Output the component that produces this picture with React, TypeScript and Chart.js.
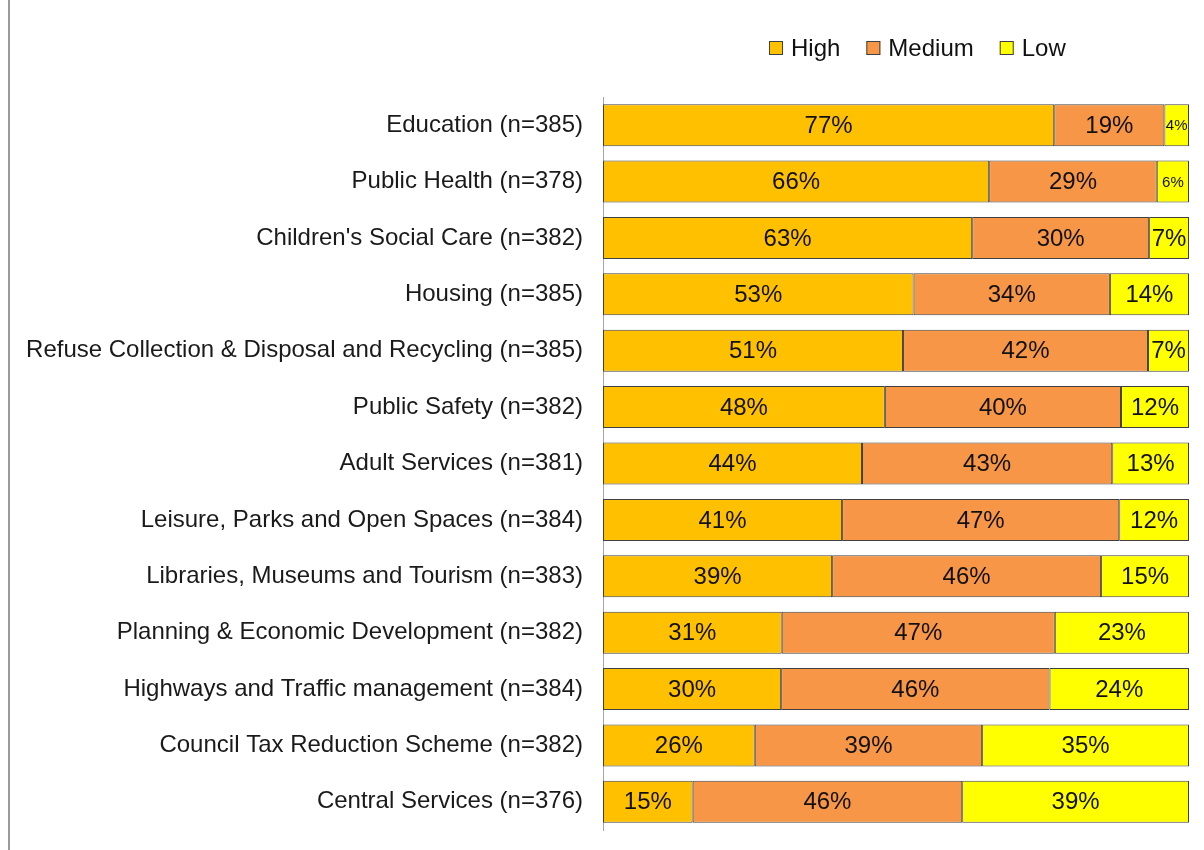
import React, { useEffect, useRef } from "react";
import { Chart, registerables } from "chart.js";

Chart.register(...registerables);

const categories = [
  "Education (n=385)",
  "Public Health (n=378)",
  "Children's Social Care (n=382)",
  "Housing (n=385)",
  "Refuse Collection & Disposal and Recycling (n=385)",
  "Public Safety (n=382)",
  "Adult Services (n=381)",
  "Leisure, Parks and Open Spaces (n=384)",
  "Libraries, Museums and Tourism (n=383)",
  "Planning & Economic Development (n=382)",
  "Highways and Traffic management (n=384)",
  "Council Tax Reduction Scheme (n=382)",
  "Central Services (n=376)",
];

const highValues = [77.0, 65.9, 63.0, 53.0, 51.2, 48.1, 44.2, 40.8, 39.1, 30.5, 30.4, 25.9, 15.3];
const mediumValues = [18.8, 28.6, 30.2, 33.5, 41.8, 40.3, 42.7, 47.3, 45.9, 46.6, 45.8, 38.8, 46.0];
const lowValues = [4.2, 5.5, 6.8, 13.5, 7.0, 11.6, 13.1, 11.9, 15.0, 22.9, 23.8, 35.3, 38.7];

const seriesNames = ["High", "Medium", "Low"];
const seriesColors = ["#FFC000", "#F79646", "#FFFF00"];

const FONT = "'Liberation Sans', Arial, sans-serif";

const labelPlugin = {
  id: "segLabels",
  afterDatasetsDraw(chart: any) {
    const ctx = chart.ctx;
    ctx.save();
    ctx.fillStyle = "#111";
    ctx.textAlign = "center";
    ctx.textBaseline = "middle";
    chart.data.datasets.forEach((ds: any, di: number) => {
      const meta = chart.getDatasetMeta(di);
      meta.data.forEach((bar: any, i: number) => {
        const v = ds.data[i];
        const small = v < 6;
        ctx.font = `${small ? 15 : 24}px ${FONT}`;
        const cx = (bar.x + bar.base) / 2;
        ctx.fillText(Math.round(v) + "%", cx, bar.y + 1);
      });
    });
    ctx.restore();
  },
};

const legendPlugin = {
  id: "customLegend",
  afterDraw(chart: any) {
    const ctx = chart.ctx;
    ctx.save();
    ctx.font = `24px ${FONT}`;
    ctx.textBaseline = "middle";
    ctx.textAlign = "left";
    const y = 48;
    let x = 769;
    seriesNames.forEach((name, i) => {
      ctx.fillStyle = seriesColors[i];
      ctx.fillRect(x, y - 7, 14, 14);
      ctx.strokeStyle = "#404040";
      ctx.lineWidth = 1;
      ctx.strokeRect(x + 0.5, y - 6.5, 13, 13);
      ctx.fillStyle = "#111";
      ctx.fillText(name, x + 22, y + 1);
      const w = ctx.measureText(name).width;
      x += 22 + w + 26;
    });
    ctx.restore();
  },
};

export default function App() {
  const ref = useRef<HTMLCanvasElement | null>(null);

  useEffect(() => {
    if (!ref.current) return;
    const chart = new Chart(ref.current, {
      type: "bar",
      data: {
        labels: categories,
        datasets: [highValues, mediumValues, lowValues].map((vals, i) => ({
          label: seriesNames[i],
          data: vals,
          backgroundColor: seriesColors[i],
          borderColor: "#404040",
          borderWidth: 1,
          borderSkipped: false,
          barPercentage: 0.745,
          categoryPercentage: 1,
        })),
      },
      options: {
        indexAxis: "y",
        responsive: false,
        animation: false,
        layout: { padding: { top: 97, right: 15, bottom: 20, left: 0 } },
        plugins: {
          legend: { display: false },
          title: { display: false },
          tooltip: { enabled: false },
        },
        scales: {
          x: {
            stacked: true,
            min: 0,
            max: 100,
            display: false,
          },
          y: {
            stacked: true,
            grid: { display: false, drawTicks: false },
            border: { display: true, color: "#a6a6a6", width: 1 },
            ticks: {
              padding: 20,
              color: "#1a1a1a",
              font: { family: FONT, size: 24 },
            },
            afterFit: (scale: any) => {
              scale.width = 603;
              scale.paddingTop = 0;
              scale.paddingBottom = 0;
            },
          },
        },
      },
      plugins: [labelPlugin, legendPlugin],
    });
    return () => chart.destroy();
  }, []);

  return (
    <div style={{ position: "fixed", left: 0, top: 0, width: 1204, height: 850, background: "#fff" }}>
      <div style={{ position: "absolute", left: 8, top: 0, width: 2, height: 850, background: "#9a9a9a" }} />
      <canvas ref={ref} width={1204} height={850} style={{ position: "absolute", left: 0, top: 0 }} />
    </div>
  );
}
